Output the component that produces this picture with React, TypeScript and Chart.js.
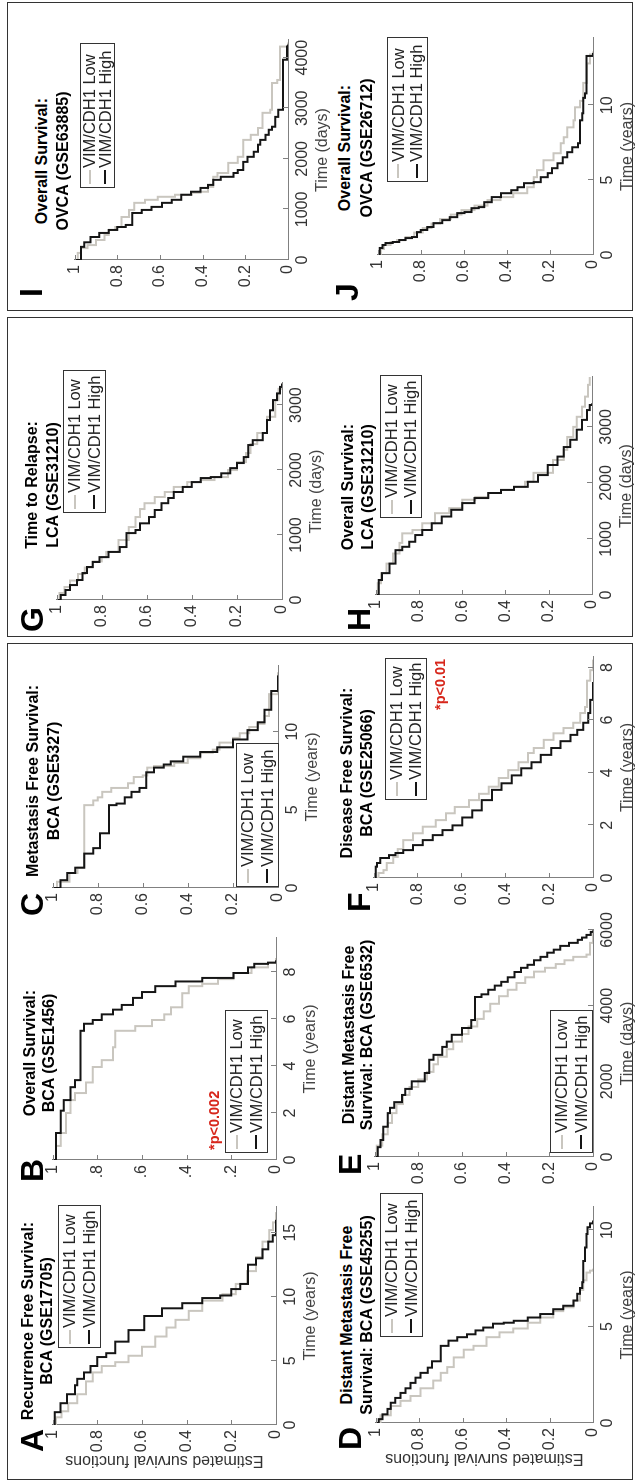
import React, { useEffect, useRef } from 'react';
import { Chart, registerables } from 'chart.js';

Chart.register(...registerables);

// ---------------- DATA (time, estimated survival) ----------------
type Pt = [number, number];

const SERIES_LABELS = ['VIM/CDH1 Low', 'VIM/CDH1 High'];

const A_HIGH: Pt[] = [[0,1],[1.0,0.99],[1.7,0.965],[2.4,0.935],[3.1,0.9],[3.6,0.89],[4.1,0.86],[4.6,0.83],[5.3,0.8],[5.6,0.76],[6.5,0.72],[7.4,0.66],[8.5,0.59],[9.1,0.51],[9.5,0.42],[9.9,0.33],[10.1,0.25],[10.6,0.2],[11.0,0.16],[12.5,0.125],[13.0,0.09],[13.7,0.06],[14.3,0.035],[14.8,0.015],[16.0,0]];
const A_LOW: Pt[] = [[0,1],[0.6,0.985],[1.07,0.96],[1.7,0.93],[2.4,0.89],[3.4,0.85],[4.1,0.82],[4.6,0.78],[4.9,0.72],[5.4,0.66],[6.1,0.6],[6.9,0.54],[7.6,0.49],[8.2,0.45],[8.9,0.39],[9.7,0.33],[10.2,0.24],[11.0,0.18],[12.0,0.13],[13.1,0.09],[14.3,0.06],[15.2,0.03],[15.8,0.013],[16.6,0]];

const B_HIGH: Pt[] = [[0,1],[1.15,0.985],[2.1,0.964],[2.55,0.95],[3.1,0.92],[3.4,0.9],[5.5,0.875],[5.8,0.86],[5.96,0.82],[6.2,0.78],[6.4,0.73],[6.6,0.69],[6.9,0.64],[7.15,0.6],[7.4,0.54],[7.6,0.45],[7.75,0.33],[7.96,0.19],[8.2,0.125],[8.35,0.097],[8.4,0.036],[8.5,0]];
const B_LOW: Pt[] = [[0,1],[0.6,0.985],[1.15,0.964],[2.0,0.94],[2.55,0.92],[2.85,0.9],[3.3,0.85],[3.96,0.82],[4.25,0.78],[4.8,0.73],[5.5,0.72],[5.7,0.63],[5.96,0.555],[6.2,0.5],[6.5,0.47],[7.1,0.42],[7.4,0.39],[7.5,0.33],[7.7,0.26],[7.96,0.19],[8.2,0.11],[8.4,0.036],[8.6,0]];

const C_HIGH: Pt[] = [[0,1],[0.5,0.965],[0.96,0.935],[1.3,0.9],[2.2,0.86],[2.55,0.82],[3.5,0.79],[5.3,0.75],[5.4,0.716],[5.8,0.68],[6.15,0.65],[6.4,0.615],[7.4,0.585],[7.7,0.55],[7.9,0.507],[8.1,0.476],[8.4,0.42],[8.7,0.345],[9.0,0.27],[9.5,0.2],[10.1,0.135],[10.6,0.09],[11.4,0.06],[12.6,0.03],[13.6,0]];
const C_LOW: Pt[] = [[0,1],[0.4,0.98],[0.96,0.925],[1.3,0.89],[5.3,0.86],[5.6,0.82],[5.8,0.8],[6.15,0.78],[6.4,0.74],[6.7,0.665],[7.1,0.64],[7.2,0.6],[7.7,0.58],[7.8,0.55],[8.0,0.46],[8.3,0.4],[8.65,0.345],[8.85,0.29],[9.3,0.26],[9.6,0.2],[9.9,0.17],[10.3,0.127],[10.5,0.09],[11.0,0.06],[12.4,0.04],[13.8,0]];

const D_HIGH: Pt[] = [[0,1],[0.2,0.986],[0.45,0.968],[0.73,0.945],[1.05,0.93],[1.3,0.91],[1.56,0.885],[1.8,0.862],[2.08,0.84],[2.35,0.817],[2.6,0.794],[2.87,0.76],[3.2,0.74],[4.0,0.7],[4.27,0.665],[4.45,0.625],[4.6,0.58],[4.8,0.54],[4.95,0.505],[5.15,0.46],[5.2,0.41],[5.3,0.365],[5.47,0.3],[5.65,0.243],[5.9,0.183],[6.08,0.137],[6.35,0.09],[6.7,0.073],[7.0,0.06],[7.3,0.05],[8.4,0.045],[9.1,0.037],[9.8,0.03],[10.15,0.025],[10.35,0.014],[10.5,0]];
const D_LOW: Pt[] = [[0,1],[0.4,0.977],[0.88,0.93],[1.15,0.885],[1.4,0.84],[1.8,0.794],[2.2,0.735],[2.6,0.7],[2.9,0.67],[3.4,0.64],[3.8,0.595],[4.0,0.55],[4.45,0.49],[4.7,0.43],[4.9,0.367],[5.2,0.3],[5.47,0.243],[5.8,0.183],[6.0,0.137],[6.35,0.09],[6.9,0.06],[7.4,0.045],[7.8,0.03],[7.9,0.014],[8.0,0]];

const E_HIGH: Pt[] = [[0,1],[260,0.986],[450,0.973],[800,0.96],[1160,0.94],[1300,0.93],[1450,0.91],[1640,0.875],[1800,0.86],[2000,0.83],[2220,0.77],[2570,0.75],[2700,0.73],[2910,0.69],[3050,0.67],[3230,0.647],[3410,0.6],[3620,0.557],[4230,0.54],[4300,0.51],[4420,0.48],[4530,0.45],[4630,0.42],[4750,0.39],[4890,0.36],[5000,0.33],[5080,0.3],[5200,0.27],[5290,0.24],[5400,0.21],[5480,0.18],[5580,0.15],[5660,0.11],[5740,0.07],[5800,0.05],[5870,0.03],[5950,0.01],[5990,0]];
const E_LOW: Pt[] = [[0,1],[300,0.99],[600,0.965],[900,0.94],[1160,0.92],[1400,0.9],[1640,0.87],[1850,0.84],[2050,0.8],[2250,0.76],[2450,0.73],[2650,0.71],[2850,0.67],[3050,0.64],[3250,0.6],[3450,0.57],[3650,0.53],[3850,0.5],[4050,0.47],[4250,0.43],[4420,0.39],[4600,0.35],[4750,0.31],[4900,0.27],[5000,0.22],[5100,0.17],[5200,0.13],[5290,0.09],[5350,0.03],[5660,0.014],[5950,0]];

const F_HIGH: Pt[] = [[0,1],[0.43,0.99],[0.57,0.985],[0.76,0.97],[0.87,0.93],[0.95,0.9],[1.06,0.865],[1.25,0.82],[1.44,0.776],[1.63,0.73],[1.82,0.686],[2.0,0.64],[2.3,0.596],[2.57,0.55],[2.96,0.507],[3.35,0.46],[3.6,0.417],[3.9,0.37],[4.17,0.327],[4.4,0.28],[4.68,0.238],[4.94,0.19],[5.2,0.148],[5.44,0.103],[5.63,0.072],[5.9,0.045],[6.27,0.022],[6.77,0.013],[7.45,0]];
const F_LOW: Pt[] = [[0,1],[0.19,0.978],[0.3,0.955],[0.57,0.94],[0.8,0.91],[1.1,0.89],[1.44,0.865],[1.7,0.82],[1.95,0.776],[2.2,0.717],[2.46,0.67],[2.7,0.63],[2.96,0.565],[3.2,0.52],[3.47,0.475],[3.8,0.43],[4.1,0.386],[4.4,0.34],[4.75,0.296],[4.94,0.27],[5.25,0.224],[5.5,0.18],[5.7,0.135],[5.9,0.09],[6.27,0.058],[6.5,0.036],[7.5,0.027],[7.9,0.013],[8.3,0]];

const G_HIGH: Pt[] = [[0,1],[77,0.982],[154,0.96],[230,0.94],[308,0.91],[415,0.885],[508,0.865],[585,0.84],[660,0.81],[740,0.77],[815,0.72],[1030,0.69],[1077,0.65],[1180,0.63],[1277,0.59],[1385,0.565],[1490,0.535],[1570,0.505],[1662,0.48],[1740,0.44],[1815,0.4],[1877,0.36],[1892,0.316],[1950,0.27],[2030,0.23],[2108,0.2],[2200,0.17],[2385,0.15],[2460,0.13],[2570,0.085],[2770,0.066],[2920,0.053],[3077,0.04],[3180,0.022],[3280,0.009],[3330,0]];
const G_LOW: Pt[] = [[0,1],[108,0.987],[200,0.965],[300,0.94],[400,0.905],[500,0.875],[594,0.84],[660,0.8],[740,0.78],[923,0.725],[1123,0.68],[1277,0.65],[1400,0.63],[1490,0.61],[1585,0.565],[1662,0.52],[1740,0.48],[1815,0.42],[1846,0.36],[1892,0.3],[2000,0.24],[2123,0.2],[2262,0.16],[2400,0.14],[2570,0.11],[2820,0.066],[3077,0.03],[3250,0.015],[3340,0]];

const H_HIGH: Pt[] = [[0,1],[268,0.985],[390,0.97],[560,0.936],[800,0.908],[860,0.877],[950,0.845],[1070,0.817],[1160,0.785],[1280,0.74],[1400,0.694],[1520,0.65],[1640,0.6],[1730,0.543],[1820,0.48],[1875,0.42],[1930,0.36],[2020,0.297],[2140,0.25],[2320,0.205],[2470,0.16],[2640,0.13],[2770,0.1],[2950,0.07],[3125,0.046],[3300,0.023],[3390,0.01],[3420,0]];
const H_LOW: Pt[] = [[0,1],[210,0.99],[390,0.975],[560,0.95],[740,0.92],[930,0.89],[1100,0.877],[1160,0.83],[1280,0.785],[1460,0.725],[1550,0.66],[1700,0.6],[1750,0.54],[1820,0.48],[1875,0.42],[1930,0.36],[2020,0.31],[2180,0.27],[2410,0.18],[2590,0.13],[2820,0.114],[3000,0.087],[3180,0.07],[3360,0.046],[3540,0.032],[3750,0.018],[3890,0.01]];

const I_HIGH: Pt[] = [[0,1],[260,0.97],[350,0.955],[455,0.925],[535,0.885],[594,0.84],[653,0.8],[693,0.76],[930,0.73],[990,0.685],[1050,0.64],[1130,0.59],[1190,0.545],[1290,0.5],[1350,0.455],[1425,0.41],[1485,0.375],[1585,0.35],[1645,0.315],[1720,0.255],[1780,0.235],[1940,0.21],[2040,0.19],[2140,0.16],[2280,0.14],[2375,0.13],[2475,0.105],[2575,0.09],[2635,0.075],[2830,0.06],[2970,0.046],[3960,0.023],[4220,0.005],[4260,0]];
const I_LOW: Pt[] = [[0,1],[140,0.985],[235,0.97],[295,0.94],[396,0.9],[495,0.86],[594,0.84],[653,0.81],[850,0.78],[990,0.745],[1130,0.72],[1190,0.67],[1250,0.61],[1290,0.53],[1330,0.45],[1350,0.41],[1445,0.375],[1645,0.35],[1720,0.33],[1920,0.28],[2040,0.235],[2375,0.21],[2475,0.175],[2610,0.14],[2910,0.12],[2970,0.083],[3500,0.075],[3560,0.05],[4220,0.037],[4300,0]];

const J_HIGH: Pt[] = [[0,1],[0.47,0.99],[0.67,0.977],[0.8,0.963],[0.87,0.93],[1.0,0.9],[1.13,0.87],[1.2,0.84],[1.53,0.817],[1.67,0.8],[1.87,0.77],[2.13,0.74],[2.33,0.7],[2.53,0.665],[2.8,0.63],[2.87,0.596],[3.13,0.564],[3.2,0.53],[3.53,0.505],[3.87,0.47],[4.13,0.427],[4.33,0.38],[4.53,0.35],[4.8,0.32],[4.87,0.275],[5.2,0.243],[5.47,0.21],[5.8,0.19],[6.13,0.165],[6.53,0.14],[6.87,0.12],[7.2,0.096],[7.47,0.07],[9.0,0.06],[9.47,0.05],[10.5,0.045],[10.8,0.037],[13.3,0.03],[13.5,0]];
const J_LOW: Pt[] = [[0,1],[0.4,0.985],[0.67,0.97],[0.87,0.94],[1.0,0.91],[1.2,0.87],[1.5,0.83],[1.8,0.79],[2.1,0.75],[2.4,0.71],[2.7,0.66],[3.0,0.61],[3.3,0.55],[3.67,0.49],[3.87,0.43],[4.13,0.37],[4.53,0.305],[5.2,0.275],[5.67,0.26],[6.33,0.23],[6.8,0.183],[7.47,0.15],[7.87,0.136],[8.53,0.12],[9.0,0.09],[9.87,0.083],[10.3,0.06],[11.5,0.045],[12.8,0.028],[13.4,0.014],[13.6,0]];

// tick values of the time axes
const TICKS_A = [0, 5, 10, 15];
const TICKS_B = [0, 2, 4, 6, 8];
const TICKS_C = [0, 5, 10];
const TICKS_D = [0, 5, 10];
const TICKS_E = [0, 2000, 4000, 6000];
const TICKS_F = [0, 2, 4, 6, 8];
const TICKS_G = [0, 1000, 2000, 3000];
const TICKS_H = [0, 1000, 2000, 3000];
const TICKS_I = [0, 1000, 2000, 3000, 4000];
const TICKS_J = [0, 5, 10];
const SURV_TICKS = [0, 0.2, 0.4, 0.6, 0.8, 1];

// ---------------- LAYOUT / STYLE ----------------
const FONT = "'Liberation Sans', Arial, Helvetica, sans-serif";
const FIG_W = 1483;
const FIG_H = 638;
const LOW_COLOR = '#c9c6bf';
const HIGH_COLOR = '#151515';
const AXIS_COLOR = '#808080';
const TICK_COLOR = '#333333';
const L = 50, T = 12, R = 28, B = 46;

interface PanelCfg {
  letter: string; x0: number; x1: number; y0: number; y1: number;
  tMax: number; ticks: number[]; unit: string; high: Pt[]; low: Pt[];
  title: string[]; titleCx: number; titleY: number[];
  legend: { x: number; y: number; w: number; h: number };
  letterPos: { x: number; cy: number };
  yLabel?: boolean; dotFmt?: boolean;
  pval?: { text: string; x: number; cy: number };
}

const PANELS: PanelCfg[] = [
  { letter: 'A', x0: 58, x1: 276, y0: 50, y1: 276, tMax: 17, ticks: TICKS_A, unit: 'years', high: A_HIGH, low: A_LOW,
    title: ['Recurrence Free Survival:', 'BCA (GSE17705)'], titleCx: 162, titleY: [29, 48],
    legend: { x: 135, y: 58, w: 143, h: 43 }, letterPos: { x: 31, cy: 30 }, yLabel: true },
  { letter: 'B', x0: 323, x1: 545, y0: 50, y1: 276, tMax: 9.45, ticks: TICKS_B, unit: 'years', high: B_HIGH, low: B_LOW,
    title: ['Overall Survival:', 'BCA (GSE1456)'], titleCx: 430, titleY: [31, 50],
    legend: { x: 330, y: 225, w: 143, h: 43 }, letterPos: { x: 301, cy: 30 }, dotFmt: true,
    pval: { text: '*p<0.002', x: 333, cy: 215 } },
  { letter: 'C', x0: 595, x1: 817, y0: 50, y1: 278, tMax: 14.2, ticks: TICKS_C, unit: 'years', high: C_HIGH, low: C_LOW,
    title: ['Metastasis Free Survival:', 'BCA (GSE5327)'], titleCx: 702, titleY: [34, 55],
    legend: { x: 596, y: 236, w: 144, h: 43 }, letterPos: { x: 567, cy: 30 } },
  { letter: 'G', x0: 883, x1: 1100, y0: 54, y1: 282, tMax: 3340, ticks: TICKS_G, unit: 'days', high: G_HIGH, low: G_LOW,
    title: ['Time to Relapse:', 'LCA (GSE31210)'], titleCx: 998, titleY: [33, 54],
    legend: { x: 970, y: 63, w: 143, h: 43 }, letterPos: { x: 851, cy: 30 } },
  { letter: 'I', x0: 1223, x1: 1443, y0: 72, y1: 288, tMax: 4350, ticks: TICKS_I, unit: 'days', high: I_HIGH, low: I_LOW,
    title: ['Overall Survival:', 'OVCA (GSE63885)'], titleCx: 1322, titleY: [43, 64],
    legend: { x: 1295, y: 80, w: 145, h: 35 }, letterPos: { x: 1186, cy: 29 } },
  { letter: 'D', x0: 60, x1: 276, y0: 373, y1: 593, tMax: 11.2, ticks: TICKS_D, unit: 'years', high: D_HIGH, low: D_LOW,
    title: ['Distant Metastasis Free', 'Survival: BCA (GSE45255)'], titleCx: 168, titleY: [348, 368],
    legend: { x: 146, y: 380, w: 144, h: 43 }, letterPos: { x: 33, cy: 348 }, yLabel: true },
  { letter: 'E', x0: 326, x1: 553, y0: 372, y1: 593, tMax: 6000, ticks: TICKS_E, unit: 'days', high: E_HIGH, low: E_LOW,
    title: ['Distant Metastasis Free', 'Survival: BCA (GSE6532)'], titleCx: 448, titleY: [350, 368],
    legend: { x: 330, y: 550, w: 143, h: 43 }, letterPos: { x: 308, cy: 348 } },
  { letter: 'F', x0: 605, x1: 826, y0: 371, y1: 593, tMax: 8.4, ticks: TICKS_F, unit: 'years', high: F_HIGH, low: F_LOW,
    title: ['Disease Free Survival:', 'BCA (GSE25066)'], titleCx: 710, titleY: [348, 368],
    legend: { x: 683, y: 385, w: 142, h: 42 }, letterPos: { x: 571, cy: 357 },
    pval: { text: '*p<0.01', x: 773, cy: 441 } },
  { letter: 'H', x0: 888, x1: 1106, y0: 373, y1: 592, tMax: 3890, ticks: TICKS_H, unit: 'days', high: H_HIGH, low: H_LOW,
    title: ['Overall Survival:', 'LCA (GSE31210)'], titleCx: 996, titleY: [349, 369],
    legend: { x: 965, y: 380, w: 143, h: 42 }, letterPos: { x: 852, cy: 357 } },
  { letter: 'J', x0: 1228, x1: 1445, y0: 375, y1: 593, tMax: 14.5, ticks: TICKS_J, unit: 'years', high: J_HIGH, low: J_LOW,
    title: ['Overall Survival:', 'OVCA (GSE26712)'], titleCx: 1335, titleY: [346, 368],
    legend: { x: 1301, y: 387, w: 145, h: 41 }, letterPos: { x: 1182, cy: 345 } },
];

const BOXES = [
  { x: 3, y: 7, w: 837, h: 626 },
  { x: 846, y: 7, w: 320, h: 626 },
  { x: 1172, y: 7, w: 309, h: 626 },
];

const inwardTicks = {
  id: 'inwardTicks',
  afterDatasetsDraw(chart: any) {
    const { ctx, chartArea, scales } = chart;
    ctx.save();
    ctx.strokeStyle = AXIS_COLOR;
    ctx.lineWidth = 1;
    const xs = scales.x, ys = scales.y;
    xs.ticks.forEach((t: any) => {
      const px = Math.round(xs.getPixelForValue(t.value)) + 0.5;
      ctx.beginPath(); ctx.moveTo(px, chartArea.bottom); ctx.lineTo(px, chartArea.bottom - 5); ctx.stroke();
    });
    ys.ticks.forEach((t: any) => {
      const py = Math.round(ys.getPixelForValue(t.value)) + 0.5;
      ctx.beginPath(); ctx.moveTo(chartArea.left, py); ctx.lineTo(chartArea.left + 5, py); ctx.stroke();
    });
    ctx.restore();
  },
};

function fmtSurv(v: number, dot?: boolean) {
  const r = Math.round(v * 10) / 10;
  if (r === 1) return '1';
  if (r === 0) return '0';
  const s = r.toFixed(1);
  return dot ? s.slice(1) : s;
}

function Panel({ cfg }: { cfg: PanelCfg }) {
  const ref = useRef<HTMLCanvasElement>(null);
  const w = cfg.x1 - cfg.x0;
  const h = cfg.y1 - cfg.y0;
  const cw = w + L + R;
  const ch = h + T + B;

  useEffect(() => {
    const toXY = (arr: Pt[]) => arr.map(([t, s]) => ({ x: t, y: s }));
    const chart = new Chart(ref.current as HTMLCanvasElement, {
      type: 'line',
      data: {
        datasets: [
          { label: SERIES_LABELS[1], data: toXY(cfg.high), borderColor: HIGH_COLOR, borderWidth: 2, stepped: 'after', pointRadius: 0, fill: false },
          { label: SERIES_LABELS[0], data: toXY(cfg.low), borderColor: LOW_COLOR, borderWidth: 2, stepped: 'after', pointRadius: 0, fill: false },
        ],
      },
      options: {
        responsive: false,
        animation: false,
        events: [],
        layout: { padding: { left: 0, top: T, right: R, bottom: 0 } },
        plugins: { legend: { display: false }, tooltip: { enabled: false }, title: { display: false } },
        scales: {
          x: {
            type: 'linear', min: 0, max: cfg.tMax,
            grid: { display: false, drawTicks: false },
            border: { display: true, color: AXIS_COLOR, width: 1 },
            afterBuildTicks: (s: any) => { s.ticks = cfg.ticks.map((v) => ({ value: v })); },
            ticks: {
              autoSkip: false, maxRotation: 0, minRotation: 0,
              color: TICK_COLOR, padding: 5, font: { family: FONT, size: 16 },
              callback: (v: any) => String(Math.round(Number(v))),
            },
            title: { display: true, text: `Time (${cfg.unit})`, color: '#444', font: { family: FONT, size: 16 }, padding: { top: 0, bottom: 2 } },
            afterFit: (s: any) => { s.height = B; },
          },
          y: {
            type: 'linear', min: 0, max: 1,
            grid: { display: false, drawTicks: false },
            border: { display: true, color: AXIS_COLOR, width: 1 },
            afterBuildTicks: (s: any) => { s.ticks = SURV_TICKS.map((v) => ({ value: v })); },
            ticks: {
              autoSkip: false,
              color: TICK_COLOR, padding: 5, font: { family: FONT, size: 16 },
              callback: (v: any) => fmtSurv(Number(v), cfg.dotFmt),
            },
            title: { display: !!cfg.yLabel, text: 'Estimated survival functions', color: '#333', font: { family: FONT, size: 16 }, padding: { top: 5, bottom: 0 } },
            afterFit: (s: any) => { s.width = L; },
          },
        },
      } as any,
      plugins: [inwardTicks],
    });
    return () => chart.destroy();
  }, [cfg]);

  const lg = cfg.legend;
  const rowH = (lg.h - 4) / 2;
  const legendRow = (color: string, label: string) => (
    <div style={{ display: 'flex', alignItems: 'center', height: rowH, whiteSpace: 'nowrap' }}>
      <span style={{ display: 'inline-block', width: 14, height: 0, borderTop: `2px solid ${color}`, marginRight: 2 }} />
      <span>{label}</span>
    </div>
  );

  return (
    <>
      <canvas
        ref={ref}
        width={cw}
        height={ch}
        style={{ position: 'absolute', left: cfg.x0 - L, top: cfg.y0 - T, width: cw, height: ch }}
      />
      {cfg.title.map((line, i) => (
        <div key={i} style={{
          position: 'absolute', left: cfg.titleCx - 160, width: 320, top: cfg.titleY[i] - 10, height: 20,
          lineHeight: '20px', textAlign: 'center', font: `bold 16px ${FONT}`, color: '#000', whiteSpace: 'nowrap',
        }}>{line}</div>
      ))}
      <div style={{
        position: 'absolute', left: lg.x, top: lg.y, width: lg.w, height: lg.h, boxSizing: 'border-box',
        border: '1px solid #333', background: '#fff', paddingLeft: 3, paddingTop: 1,
        font: `16.5px ${FONT}`, color: '#222',
      }}>
        {legendRow(LOW_COLOR, SERIES_LABELS[0])}
        {legendRow(HIGH_COLOR, SERIES_LABELS[1])}
      </div>
      <div style={{
        position: 'absolute', left: cfg.letterPos.x, top: cfg.letterPos.cy - 16, height: 32, lineHeight: '32px',
        font: `bold 32px ${FONT}`, color: '#000',
      }}>{cfg.letter}</div>
      {cfg.pval && (
        <div style={{
          position: 'absolute', left: cfg.pval.x, top: cfg.pval.cy - 9, height: 18, lineHeight: '18px',
          font: `bold 14.5px ${FONT}`, color: '#d7261b', whiteSpace: 'nowrap',
        }}>{cfg.pval.text}</div>
      )}
    </>
  );
}

export default function App() {
  return (
    <div style={{ position: 'absolute', left: 0, top: 0, width: FIG_H, height: FIG_W, overflow: 'hidden', background: '#fff' }}>
      <div style={{
        position: 'absolute', left: 0, top: 0, width: FIG_W, height: FIG_H,
        transformOrigin: '0 0', transform: `translate(0px, ${FIG_W}px) rotate(-90deg)`, background: '#fff',
      }}>
        {BOXES.map((b, i) => (
          <div key={i} style={{
            position: 'absolute', left: b.x, top: b.y, width: b.w, height: b.h, boxSizing: 'border-box',
            border: '1.5px solid #333',
          }} />
        ))}
        {PANELS.map((p) => <Panel key={p.letter} cfg={p} />)}
      </div>
    </div>
  );
}
